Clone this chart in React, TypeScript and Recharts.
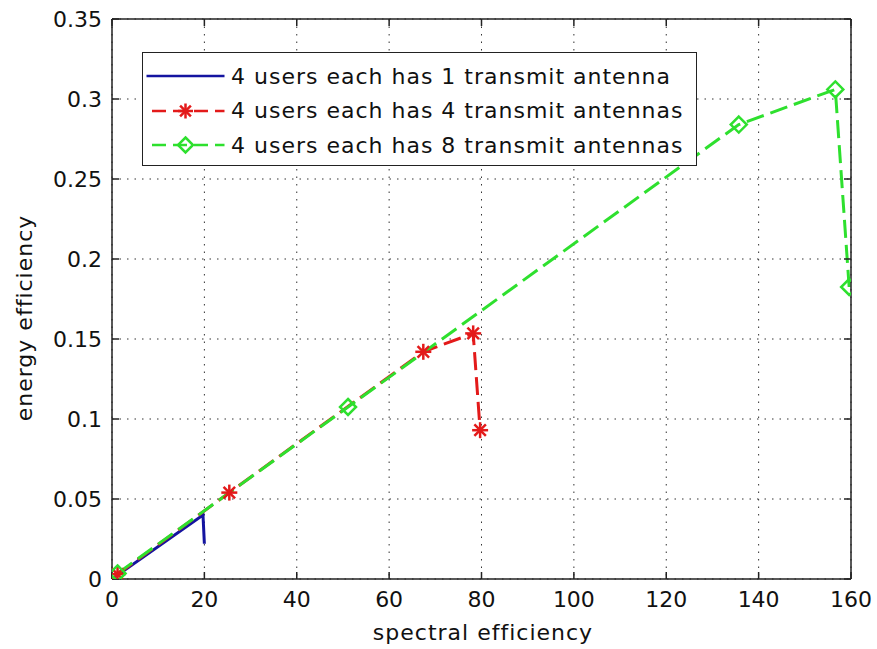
import React from 'react';
import {
    LineChart,
    Line,
    XAxis,
    YAxis,
    CartesianGrid,
    Legend,
    Label
} from 'recharts';

// spectral efficiency (x) / energy efficiency (y) per configuration
const oneAntennaX = [0, 19.7, 20];
const oneAntennaY = [0, 0.040, 0.022];

const fourAntennaX = [1.2, 25.4, 67.4, 78.2, 79.7];
const fourAntennaY = [0.003, 0.054, 0.142, 0.1535, 0.093];

const eightAntennaX = [1.2, 51.1, 135.7, 156.6, 159.6];
const eightAntennaY = [0.0035, 0.1075, 0.284, 0.306, 0.1825];

const xTicks = [0, 20, 40, 60, 80, 100, 120, 140, 160];
const yTicks = [0, 0.05, 0.1, 0.15, 0.2, 0.25, 0.3, 0.35];

const seriesNames = [
    '4 users each has 1 transmit antenna',
    '4 users each has 4 transmit antennas',
    '4 users each has 8 transmit antennas'
];

const BLUE = '#1414a0';
const RED = '#e31a1a';
const GREEN = '#2ee02e';
const AXIS = '#222';
const FONT = '"DejaVu Sans", sans-serif';
const DASH = '18 7';

const toPoints = (xs: number[], ys: number[]) => xs.map((x, i) => ({ x, y: ys[i] }));

const oneAntenna = toPoints(oneAntennaX, oneAntennaY);
const fourAntenna = toPoints(fourAntennaX, fourAntennaY);
const eightAntenna = toPoints(eightAntennaX, eightAntennaY);

const Asterisk = ({ cx, cy, r = 8 }: { cx: number; cy: number; r?: number }) => {
    const d = r * 0.72;
    return (
        <g stroke={RED} strokeWidth={2.5}>
            <line x1={cx - r} y1={cy} x2={cx + r} y2={cy} />
            <line x1={cx} y1={cy - r} x2={cx} y2={cy + r} />
            <line x1={cx - d} y1={cy - d} x2={cx + d} y2={cy + d} />
            <line x1={cx - d} y1={cy + d} x2={cx + d} y2={cy - d} />
        </g>
    );
};

const Diamond = ({ cx, cy, r = 8 }: { cx: number; cy: number; r?: number }) => (
    <polygon
        points={`${cx},${cy - r} ${cx + r},${cy} ${cx},${cy + r} ${cx - r},${cy}`}
        fill="none"
        stroke={GREEN}
        strokeWidth={2.5}
    />
);

const renderStar = (props: any) => <Asterisk key={`star-${props.index}`} cx={props.cx} cy={props.cy} />;
const renderDiamond = (props: any) => <Diamond key={`dia-${props.index}`} cx={props.cx} cy={props.cy} />;
// box axes on top/right carry tick marks only
const noLabel = (props: any) => <g key={`nl-${props.index}`} />;

const fmtY = (v: number) => (v === 0 ? '0' : String(Number(v.toFixed(2))));

const renderLegend = () => {
    const rows = [
        { name: seriesNames[0], color: BLUE, dash: undefined, marker: null },
        { name: seriesNames[1], color: RED, dash: '14 7', marker: <Asterisk cx={42.5} cy={10} r={7.5} /> },
        { name: seriesNames[2], color: GREEN, dash: '14 7', marker: <Diamond cx={42.5} cy={10} r={7.5} /> }
    ];
    return (
        <div
            style={{
                width: 555,
                height: 114,
                boxSizing: 'border-box',
                border: `1.5px solid ${AXIS}`,
                background: '#fff',
                paddingTop: 6
            }}
        >
            {rows.map(row => (
                <div key={row.name} style={{ display: 'flex', alignItems: 'center', height: 34.5 }}>
                    <svg width={88} height={20} style={{ flex: 'none' }}>
                        <line
                            x1={row.dash ? 9 : 3.5}
                            y1={10}
                            x2={81.5}
                            y2={10}
                            stroke={row.color}
                            strokeWidth={2.5}
                            strokeDasharray={row.dash}
                        />
                        {row.marker}
                    </svg>
                    <span style={{ fontFamily: FONT, fontSize: 22, letterSpacing: 1, color: '#111', whiteSpace: 'nowrap' }}>
                        {row.name}
                    </span>
                </div>
            ))}
        </div>
    );
};

const tickStyle = { fill: '#111', fontSize: 22, fontFamily: FONT };
const axisLineStyle = { stroke: AXIS, strokeWidth: 1.5 };

export default function App() {
    return (
        <div style={{ position: 'absolute', left: 0, top: 0, background: '#fff' }}>
            <LineChart width={877} height={649} margin={{ top: 18, right: 25, left: 0, bottom: 0 }}>
                <CartesianGrid
                    stroke="#333"
                    strokeDasharray="1.5 6"
                    horizontalValues={yTicks}
                    verticalValues={xTicks}
                />
                <XAxis
                    dataKey="x"
                    type="number"
                    domain={[0, 160]}
                    ticks={xTicks}
                    allowDataOverflow
                    height={70}
                    tickSize={-7}
                    tickMargin={19}
                    axisLine={axisLineStyle}
                    tickLine={axisLineStyle}
                    tick={tickStyle}
                >
                    <Label
                        content={() => (
                            <text x={483} y={640} textAnchor="middle" fontFamily={FONT} fontSize={22} letterSpacing={1} fill="#111">
                                spectral efficiency
                            </text>
                        )}
                    />
                </XAxis>
                <XAxis
                    xAxisId="top"
                    orientation="top"
                    dataKey="x"
                    type="number"
                    domain={[0, 160]}
                    ticks={xTicks}
                    allowDataOverflow
                    height={1}
                    tickSize={-7}
                    axisLine={axisLineStyle}
                    tickLine={axisLineStyle}
                    tick={noLabel}
                />
                <YAxis
                    type="number"
                    domain={[0, 0.35]}
                    ticks={yTicks}
                    allowDataOverflow
                    width={112}
                    tickSize={-7}
                    tickMargin={17}
                    tickFormatter={fmtY}
                    axisLine={axisLineStyle}
                    tickLine={axisLineStyle}
                    tick={tickStyle}
                >
                    <Label
                        content={() => (
                            <text
                                transform="translate(32, 318) rotate(-90)"
                                textAnchor="middle"
                                fontFamily={FONT}
                                fontSize={22}
                                letterSpacing={1}
                                fill="#111"
                            >
                                energy efficiency
                            </text>
                        )}
                    />
                </YAxis>
                <YAxis
                    yAxisId="right"
                    orientation="right"
                    type="number"
                    domain={[0, 0.35]}
                    ticks={yTicks}
                    allowDataOverflow
                    width={1}
                    tickSize={-7}
                    axisLine={axisLineStyle}
                    tickLine={axisLineStyle}
                    tick={noLabel}
                />
                <Legend
                    content={renderLegend}
                    layout="vertical"
                    align="center"
                    verticalAlign="middle"
                    wrapperStyle={{ left: 142, top: 52, width: 555, height: 114 }}
                />
                <Line
                    data={oneAntenna}
                    dataKey="y"
                    name={seriesNames[0]}
                    stroke={BLUE}
                    strokeWidth={3}
                    dot={false}
                    isAnimationActive={false}
                />
                <Line
                    data={fourAntenna}
                    dataKey="y"
                    name={seriesNames[1]}
                    stroke={RED}
                    strokeWidth={3}
                    strokeDasharray={DASH}
                    dot={renderStar}
                    isAnimationActive={false}
                />
                <Line
                    data={eightAntenna}
                    dataKey="y"
                    name={seriesNames[2]}
                    stroke={GREEN}
                    strokeWidth={3}
                    strokeDasharray={DASH}
                    dot={renderDiamond}
                    isAnimationActive={false}
                />
            </LineChart>
        </div>
    );
}
